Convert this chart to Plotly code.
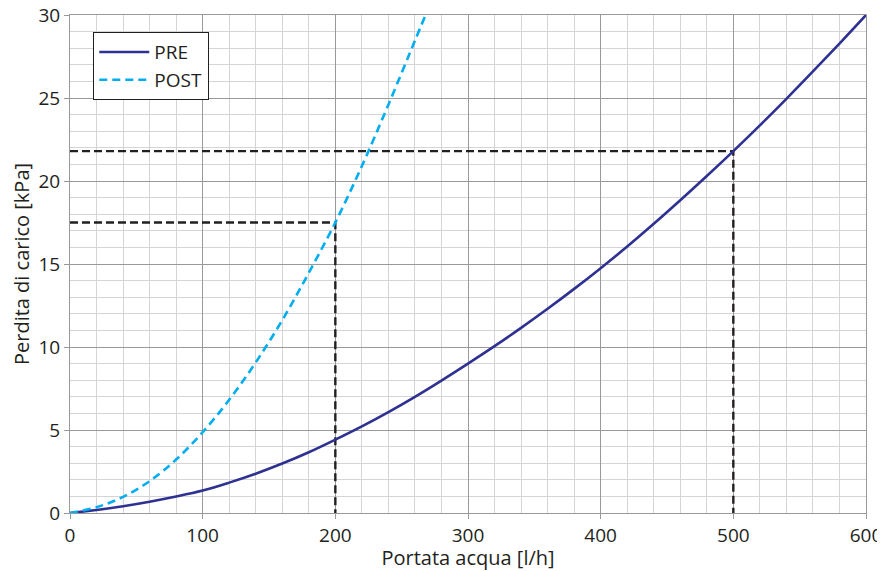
import plotly.graph_objects as go

# Data
pre_x = [0, 20, 40, 60, 80, 100, 120, 140, 160, 180, 200, 220, 240, 260, 280, 300,
         320, 340, 360, 380, 400, 420, 440, 460, 480, 500, 520, 540, 560, 580, 600]
pre_y = [0, 0.18, 0.41, 0.68, 0.99, 1.35, 1.83, 2.37, 2.98, 3.66, 4.42, 5.22, 6.08, 7.0, 7.98, 9.0,
         10.05, 11.15, 12.3, 13.5, 14.75, 16.05, 17.42, 18.84, 20.3, 21.8, 23.35, 24.95, 26.6, 28.28, 30.0]

post_x = [0, 20, 40, 60, 80, 100, 120, 140, 160, 180, 200, 220, 240, 260, 268]
post_y = [0, 0.35, 0.97, 1.92, 3.22, 4.87, 6.82, 9.07, 11.62, 14.47, 17.5, 20.9, 24.6, 28.45, 30.0]

ref_points_x = [200, 500]
ref_points_y = [17.5, 21.8]

x_title = "Portata acqua [l/h]"
y_title = "Perdita di carico [kPa]"

fig = go.Figure()

# Reference dashed lines
for rx, ry in zip(ref_points_x, ref_points_y):
    fig.add_trace(go.Scatter(x=[0, rx, rx], y=[ry, ry, 0], mode="lines",
                             line=dict(color="#231f20", width=2.4, dash="8px,4px"),
                             showlegend=False, hoverinfo="skip"))

fig.add_trace(go.Scatter(x=pre_x, y=pre_y, mode="lines", name="PRE",
                         line=dict(color="#2e3192", width=2.6, shape="spline", smoothing=1)))
fig.add_trace(go.Scatter(x=post_x, y=post_y, mode="lines", name="POST",
                         line=dict(color="#00aeef", width=2.6, dash="8px,5px", shape="spline", smoothing=1)))

font_family = "Open Sans, Noto Sans, sans-serif"
fs_tick = 19
fs_title = 20

# The page places the figure 8px from the top-left corner; sizes compensate for that.
fig.update_layout(
    width=877, height=563,
    margin=dict(l=62, r=19, t=7, b=58, autoexpand=False),
    paper_bgcolor="white", plot_bgcolor="white",
    font=dict(family=font_family, size=fs_tick, color="#231f20"),
    legend=dict(x=0.029, y=0.966, xanchor="left", yanchor="top",
                bgcolor="white", bordercolor="#231f20", borderwidth=1.2,
                font=dict(size=19, color="#231f20"), tracegroupgap=0, itemwidth=50),
    xaxis=dict(range=[0, 600], dtick=100, tick0=0, automargin=True,
               ticklabeloverflow="allow",
               showgrid=True, gridcolor="#999999", gridwidth=1,
               minor=dict(dtick=20, showgrid=True, gridcolor="#d4d4d4", gridwidth=1),
               ticks="outside", ticklen=5, tickcolor="#999999",
               showline=True, linecolor="#999999", mirror=True, zeroline=False,
               title=dict(text=x_title, font=dict(size=fs_title), standoff=5),
               tickfont=dict(size=fs_tick)),
    yaxis=dict(range=[0, 30], dtick=5, tick0=0, automargin=True,
               ticklabeloverflow="allow",
               showgrid=True, gridcolor="#999999", gridwidth=1,
               minor=dict(dtick=1, showgrid=True, gridcolor="#d4d4d4", gridwidth=1),
               ticks="outside", ticklen=5, tickcolor="#999999",
               showline=True, linecolor="#999999", mirror=True, zeroline=False,
               title=dict(text=y_title, font=dict(size=fs_title), standoff=8),
               tickfont=dict(size=fs_tick)),
)

fig.write_html("out.html")
